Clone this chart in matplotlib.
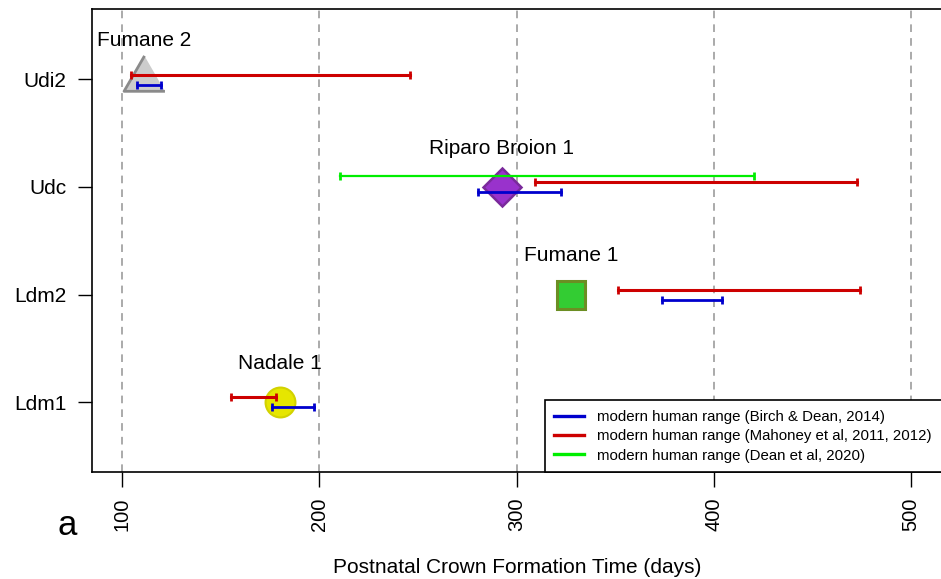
import matplotlib
matplotlib.use("Agg")
import matplotlib.pyplot as plt
from matplotlib.lines import Line2D

plt.rcParams['font.family'] = ['Liberation Sans', 'DejaVu Sans']

# teeth on the y axis (bottom to top)
teeth = ['Ldm1', 'Ldm2', 'Udc', 'Udi2']
tooth_pos = [1, 2, 3, 4]

# fossil specimens, one per tooth
specimens = ['Nadale 1', 'Fumane 1', 'Riparo Broion 1', 'Fumane 2']
crown_days = [180.0, 327.5, 292.5, 111.0]

# modern human ranges (days): low / high per tooth, None = no range
birch_lo = [176.0, 374.0, 280.5, 107.5]
birch_hi = [197.5, 404.0, 322.5, 120.0]
mahoney_lo = [155.5, 351.5, 309.5, 104.5]
mahoney_hi = [178.0, 474.0, 472.5, 246.0]
dean_lo = [None, None, 210.5, None]
dean_hi = [None, None, 420.5, None]

x_ticks = [100, 200, 300, 400, 500]

BLUE = '#0000CD'
RED = '#CD0000'
GREEN = '#00EE00'

# marker styles per specimen
tri = [(0, 1), (-0.866, -0.5), (0.866, -0.5)]
marker_style = [
    dict(marker='o', ms=21.5, mfc='#E6E600', mec='#D2D200', mew=1.5),
    dict(marker='s', ms=19.5, mfc='#33CC33', mec='#6B8E23', mew=2.2),
    dict(marker='D', ms=19.5, mfc='#9932CC', mec='#7A2A9B', mew=1.8),
    dict(marker=tri, ms=34, mfc='#CCCCCC', mec='#8A8A8A', mew=2.0),
]

fig = plt.figure(figsize=(9.41, 5.79), dpi=100)
ax = fig.add_axes([0.0982, 0.1848, 0.9035, 0.7988])

for xv in x_ticks:
    ax.axvline(xv, color='#939393', lw=1.1, ls=(0, (5, 4)), zorder=0)

for y, x, name, st in zip(tooth_pos, crown_days, specimens, marker_style):
    ax.plot([x], [y], ls='none', zorder=2, **st)
    ax.text(x, y + 0.36, name, ha='center', va='center', fontsize=15, zorder=3)

cap = dict(marker='|', ms=6, mew=2.0, zorder=4)
for i, y in enumerate(tooth_pos):
    if dean_lo[i] is not None:
        ax.plot([dean_lo[i], dean_hi[i]], [y + 0.1, y + 0.1], color=GREEN, lw=1.6, **cap)
    ax.plot([mahoney_lo[i], mahoney_hi[i]], [y + 0.045, y + 0.045], color=RED, lw=2.2, **cap)
    ax.plot([birch_lo[i], birch_hi[i]], [y - 0.05, y - 0.05], color=BLUE, lw=2.0, **cap)

ax.set_xlim(85, 516)
ax.set_ylim(0.35, 4.65)
ax.set_xticks(x_ticks)
ax.set_xticklabels([str(v) for v in x_ticks], rotation=90, fontsize=14.5)
ax.set_yticks(tooth_pos)
ax.set_yticklabels(teeth, fontsize=15)
ax.tick_params(axis='x', length=10.5, width=1.0, pad=8)
ax.tick_params(axis='y', length=10, width=1.0, pad=8.5)
for sp in ax.spines.values():
    sp.set_linewidth(1.2)

ax.set_xlabel('Postnatal Crown Formation Time (days)', fontsize=15, labelpad=19)

handles = [Line2D([], [], color=BLUE, lw=2.4),
           Line2D([], [], color=RED, lw=2.4),
           Line2D([], [], color=GREEN, lw=2.4)]
labels = ['modern human range (Birch & Dean, 2014)',
          'modern human range (Mahoney et al, 2011, 2012)',
          'modern human range (Dean et al, 2020)']
leg = ax.legend(handles, labels, loc='lower left', bbox_to_anchor=(0.5323, 0.0, 0.4677, 0.2),
                mode='expand', fontsize=10.8, frameon=True, fancybox=False, framealpha=1,
                edgecolor='black', borderaxespad=0, borderpad=0.63, labelspacing=0.36,
                handlelength=2.0, handletextpad=0.87)
leg.get_frame().set_linewidth(1.2)
leg.set_zorder(5)

fig.text(67 / 941, 1 - 535 / 579, 'a', fontsize=25, ha='center', va='baseline')

fig.savefig('out.png', dpi=100)
